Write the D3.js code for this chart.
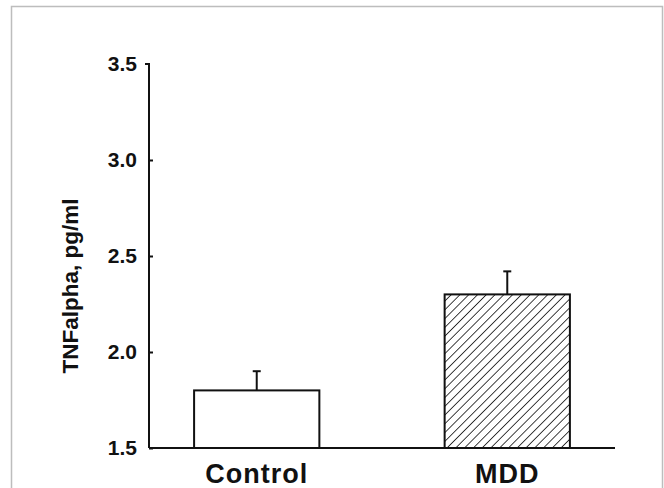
<!DOCTYPE html>
<html>
<head>
<meta charset="utf-8">
<script src="https://cdn.jsdelivr.net/npm/d3@7"></script>
<style>
  body { margin: 0; background: #fff; }
  svg { display: block; }
  text { font-family: "Liberation Sans", Arial, sans-serif; fill: #111; }
</style>
</head>
<body>
<svg id="chart" width="664" height="488"></svg>
<script>
const groups = ["Control", "MDD"];
const means = [1.8, 2.3];
const errors = [0.1, 0.12];
const yTicks = [1.5, 2.0, 2.5, 3.0, 3.5];
const yLabel = "TNFalpha, pg/ml";

const width = 664, height = 488;
const margin = { left: 149, right: 49, top: 64, bottom: 40 };

const svg = d3.select("#chart");

// light frame round the figure
svg.append("rect")
    .attr("x", 11.5).attr("y", 6.5)
    .attr("width", 651).attr("height", 490)
    .attr("fill", "none")
    .attr("stroke", "#bdbdbd")
    .attr("stroke-width", 1.5);

// hatch pattern for MDD bar
const defs = svg.append("defs");
defs.append("pattern")
    .attr("id", "hatch")
    .attr("patternUnits", "userSpaceOnUse")
    .attr("width", 6.2).attr("height", 6.2)
    .attr("patternTransform", "rotate(45)")
    .append("line")
    .attr("x1", 0).attr("y1", 0)
    .attr("x2", 0).attr("y2", 6.2)
    .attr("stroke", "#111")
    .attr("stroke-width", 1.6);

const y = d3.scaleLinear()
    .domain([1.5, 3.5])
    .range([height - margin.bottom, margin.top]);

const x = d3.scaleBand()
    .domain(groups)
    .range([margin.left, width - margin.right])
    .paddingInner(0.5)
    .paddingOuter(0.18);

// bars
svg.selectAll("rect.bar")
    .data(groups)
    .enter()
    .append("rect")
    .attr("class", "bar")
    .attr("x", d => x(d))
    .attr("y", (d, i) => y(means[i]))
    .attr("width", x.bandwidth())
    .attr("height", (d, i) => y(1.5) - y(means[i]))
    .attr("fill", (d, i) => i === 1 ? "url(#hatch)" : "#fff")
    .attr("stroke", "#111")
    .attr("stroke-width", 2);

// error bars (upper only)
const err = svg.selectAll("g.err")
    .data(groups)
    .enter()
    .append("g")
    .attr("class", "err")
    .attr("stroke", "#111")
    .attr("stroke-width", 2);

err.append("line")
    .attr("x1", d => x(d) + x.bandwidth() / 2)
    .attr("x2", d => x(d) + x.bandwidth() / 2)
    .attr("y1", (d, i) => y(means[i]))
    .attr("y2", (d, i) => y(means[i] + errors[i]));

err.append("line")
    .attr("x1", d => x(d) + x.bandwidth() / 2 - 4)
    .attr("x2", d => x(d) + x.bandwidth() / 2 + 4)
    .attr("y1", (d, i) => y(means[i] + errors[i]))
    .attr("y2", (d, i) => y(means[i] + errors[i]));

// y axis, ticks point inward
const yAxis = svg.append("g")
    .attr("transform", `translate(${margin.left},0)`)
    .call(d3.axisLeft(y).tickValues(yTicks).tickFormat(d3.format(".1f")).tickSize(-4).tickPadding(12));
yAxis.select(".domain").attr("d", `M-4,${y(3.5)}H0V${y(1.5)}`).attr("stroke-width", 2).attr("stroke", "#111");
yAxis.selectAll(".tick line").attr("stroke-width", 2).attr("stroke", "#111");
yAxis.selectAll(".tick").filter(d => d === 3.5).select("line").remove();
yAxis.selectAll(".tick text")
    .attr("font-size", 21)
    .attr("font-weight", "bold")
    .attr("fill", "#111")
    .style("font-family", "'Liberation Sans', Arial, sans-serif");

// x axis baseline + labels
const xAxis = svg.append("g")
    .attr("transform", `translate(0,${y(1.5)})`)
    .call(d3.axisBottom(x).tickSize(0).tickPadding(35));
xAxis.select(".domain")
    .attr("d", `M${margin.left},0H${width - margin.right}`)
    .attr("stroke-width", 2).attr("stroke", "#111");
xAxis.selectAll(".tick text")
    .attr("font-size", 27)
    .attr("font-weight", "bold")
    .attr("fill", "#111")
    .attr("dy", 0)
    .attr("letter-spacing", 1)
    .style("font-family", "'Liberation Sans', Arial, sans-serif");

// y label
svg.append("text")
    .attr("transform", `translate(78,${(y(1.5) + y(3.5)) / 2 + 30}) rotate(-90)`)
    .attr("text-anchor", "middle")
    .attr("font-size", 22.5)
    .attr("font-weight", "bold")
    .text(yLabel);
</script>
</body>
</html>
